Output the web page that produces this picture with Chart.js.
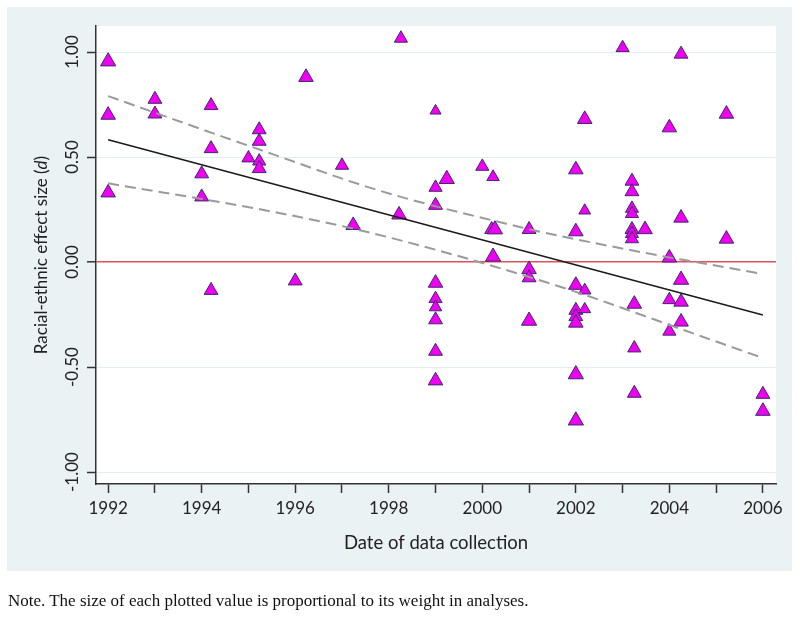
<!DOCTYPE html>
<html>
<head>
<meta charset="utf-8">
<script src="https://cdn.jsdelivr.net/npm/chart.js@4.4.1/dist/chart.umd.min.js"></script>
<style>
  html, body { margin: 0; padding: 0; background: #ffffff; }
  #wrap { position: relative; width: 800px; height: 625px; }
  #c { position: absolute; left: 0; top: 0; }
  #note { position: absolute; left: 8px; top: 592px; font-family: "Liberation Serif", "Times New Roman", serif; font-size: 17px; line-height: 17px; color: #111; white-space: nowrap; }
</style>
</head>
<body>
<div id="wrap">
  <canvas id="c" width="800" height="625"></canvas>
  <div id="note">Note. The size of each plotted value is proportional to its weight in analyses.</div>
</div>
<script>
// ---- data ----
const pointYears = [1992,1992,1992, 1993,1993, 1994,1994, 1994.2,1994.2,1994.2, 1995,
  1995.23,1995.23,1995.23,1995.23, 1996, 1996.23, 1997, 1997.24, 1998.26, 1998.22,
  1999,1999,1999,1999,1999,1999,1999,1999,1999, 1999.24, 2000, 2000.23, 2000.2, 2000.27, 2000.23,
  2001,2001,2001,2001, 2002,2002,2002,2002,2002,2002,2002,2002, 2002.19,2002.19,2002.19,2002.19,
  2003, 2003.2,2003.2,2003.2,2003.2,2003.2,2003.2,2003.2, 2003.48, 2003.25,2003.25,2003.25,
  2004,2004,2004,2004, 2004.25,2004.25,2004.25,2004.25,2004.25, 2005.22,2005.22, 2006,2006];
const pointValues = [0.955,0.70,0.33, 0.775,0.705, 0.42,0.31, 0.745,0.54,-0.135, 0.495,
  0.63,0.575,0.48,0.445, -0.09, 0.88, 0.46, 0.175, 1.065, 0.225,
  0.72,0.355,0.27,-0.10,-0.175,-0.215,-0.275,-0.425,-0.565, 0.395, 0.455, 0.405, 0.155, 0.155, 0.025,
  0.155,-0.035,-0.075,-0.28, 0.44,0.145,-0.11,-0.23,-0.26,-0.29,-0.535,-0.755, 0.68,0.245,-0.135,-0.225,
  1.02, 0.385,0.335,0.255,0.23,0.155,0.135,0.11, 0.155, -0.20,-0.41,-0.625,
  0.64,0.02,-0.18,-0.33, 0.99,0.21,-0.085,-0.19,-0.285, 0.705,0.11, -0.63,-0.71];
const pointWeights = [1.1,1.05,1.05, 1.0,1.0, 1.0,1.0, 1.0,1.0,1.0, 0.95,
  1.0,1.0,0.95,1.0, 1.0, 1.05, 0.95, 1.05, 0.95, 1.05,
  0.8,0.95,1.0,1.05,0.95,0.9,1.0,1.0,1.05, 1.1, 0.95, 0.9, 1.0, 1.1, 1.1,
  1.0,1.05,1.0,1.1, 1.05,1.05,1.05,1.0,1.0,1.05,1.1,1.1, 1.05,0.85,0.9,0.85,
  0.95, 1.0,1.0,0.95,0.95,1.0,0.95,0.95, 1.05, 1.05,0.95,1.0,
  1.05,1.05,0.95,0.95, 1.0,1.05,1.1,1.05,1.05, 1.05,1.05, 1.0,1.05];

const fitYears = [1992, 2006];
const fitValues = [0.582, -0.252];
const upperYears = [1992, 1995.5, 1997.8, 2000.8, 2001.6, 2004, 2004.65, 2006];
const upperValues = [0.79, 0.515, 0.34, 0.167, 0.127, 0.022, -0.003, -0.057];
const lowerYears = [1992, 1995.6, 1997.8, 2001.6, 2004.65, 2006];
const lowerValues = [0.375, 0.236, 0.129, -0.113, -0.351, -0.457];

const xTickYears = [1992,1993,1994,1995,1996,1997,1998,1999,2000,2001,2002,2003,2004,2005,2006];
const xTickLabels = ["1992","","1994","","1996","","1998","","2000","","2002","","2004","","2006"];
const yTickValues = [-1, -0.5, 0, 0.5, 1];
const yTickLabels = ["-1.00", "-0.50", "0.00", "0.50", "1.00"];
const xTitle = "Date of data collection";
const yTitleParts = ["Racial-ethnic effect size (", "d", ")"];

// ---- build ----
const zip = (xs, ys) => xs.map((x, i) => ({ x: x, y: ys[i] }));
const TXT = '#222222';
const FONT = 'Lato, "Open Sans", sans-serif';

const panelPlugin = {
  id: 'panel',
  beforeDraw(chart) {
    const ctx = chart.ctx, a = chart.chartArea;
    ctx.save();
    ctx.fillStyle = '#eaf2f3';
    ctx.fillRect(7, 7, 785, 564);
    ctx.fillStyle = '#ffffff';
    ctx.fillRect(a.left, a.top, a.right - a.left, a.bottom - a.top);
    ctx.restore();
  },
  afterDraw(chart) {
    const ctx = chart.ctx, a = chart.chartArea, ys = chart.scales.y;
    ctx.save();
    ctx.fillStyle = TXT;
    ctx.font = '17px ' + FONT;
    ctx.textAlign = 'center';
    ctx.textBaseline = 'middle';
    yTickValues.forEach((v, i) => {
      const py = ys.getPixelForValue(v);
      ctx.save();
      ctx.translate(73, py);
      ctx.rotate(-Math.PI / 2);
      ctx.fillText(yTickLabels[i], 0, 0);
      ctx.restore();
    });
    // x title
    ctx.font = '18.5px ' + FONT;
    ctx.fillText(xTitle, (a.left + a.right) / 2, 543);
    // y title with italic d
    const fonts = ['17px ' + FONT, 'italic 17px ' + FONT, '17px ' + FONT];
    let widths = yTitleParts.map((t, i) => { ctx.font = fonts[i]; return ctx.measureText(t).width; });
    const total = widths.reduce((s, w) => s + w, 0);
    ctx.translate(42, (a.top + a.bottom) / 2);
    ctx.rotate(-Math.PI / 2);
    ctx.textAlign = 'left';
    let cx = -total / 2;
    yTitleParts.forEach((t, i) => { ctx.font = fonts[i]; ctx.fillText(t, cx, 0); cx += widths[i]; });
    ctx.restore();
  }
};

new Chart(document.getElementById('c'), {
  type: 'scatter',
  data: {
    datasets: [
      {
        label: 'fit', data: zip(fitYears, fitValues), showLine: true,
        borderColor: '#1a1a1a', borderWidth: 1.5, pointRadius: 0, fill: false, order: 1
      },
      {
        label: 'upper', data: zip(upperYears, upperValues), showLine: true,
        borderColor: '#9a9a9a', borderWidth: 2, borderDash: [11, 6], pointRadius: 0,
        cubicInterpolationMode: 'monotone', fill: false, order: 2
      },
      {
        label: 'lower', data: zip(lowerYears, lowerValues), showLine: true,
        borderColor: '#9a9a9a', borderWidth: 2, borderDash: [11, 6], pointRadius: 0,
        cubicInterpolationMode: 'monotone', fill: false, order: 3
      },
      {
        label: 'studies', data: zip(pointYears, pointValues),
        pointStyle: 'triangle',
        pointRadius: pointWeights.map(w => 8 * w),
        pointBackgroundColor: '#f000f0',
        pointBorderColor: '#3b2a6e',
        pointBorderWidth: 1,
        order: 4
      }
    ]
  },
  options: {
    responsive: false,
    animation: false,
    events: [],
    layout: { padding: { left: 7, right: 24, top: 26, bottom: 61 } },
    plugins: { legend: { display: false }, tooltip: { enabled: false } },
    scales: {
      x: {
        type: 'linear', min: 1991.74, max: 2006.28,
        afterBuildTicks: s => { s.ticks = xTickYears.map(v => ({ value: v })); },
        afterFit: s => { s.height = 80; },
        ticks: {
          autoSkip: false, maxRotation: 0, minRotation: 0, padding: 5,
          color: TXT, font: { family: FONT, size: 17 },
          callback: (v) => { const i = xTickYears.indexOf(v); return i >= 0 ? xTickLabels[i] : ''; }
        },
        grid: { drawOnChartArea: false, drawTicks: true, tickLength: 9, tickColor: '#333333', tickWidth: 1.5 },
        border: { display: true, color: '#333333', width: 1.5 }
      },
      y: {
        type: 'linear', min: -1.057, max: 1.124,
        afterBuildTicks: s => { s.ticks = yTickValues.map(v => ({ value: v })); },
        afterFit: s => { s.width = 89; },
        ticks: { display: false },
        grid: {
          drawOnChartArea: true, drawTicks: true, tickLength: 9,
          color: ctx => (ctx.tick && ctx.tick.value === 0) ? '#e0505e' : '#e4eef0',
          lineWidth: ctx => (ctx.tick && ctx.tick.value === 0) ? 1.6 : 1,
          tickColor: '#333333', tickWidth: 1.5
        },
        border: { display: true, color: '#333333', width: 1.5 }
      }
    }
  },
  plugins: [panelPlugin]
});
</script>
</body>
</html>
